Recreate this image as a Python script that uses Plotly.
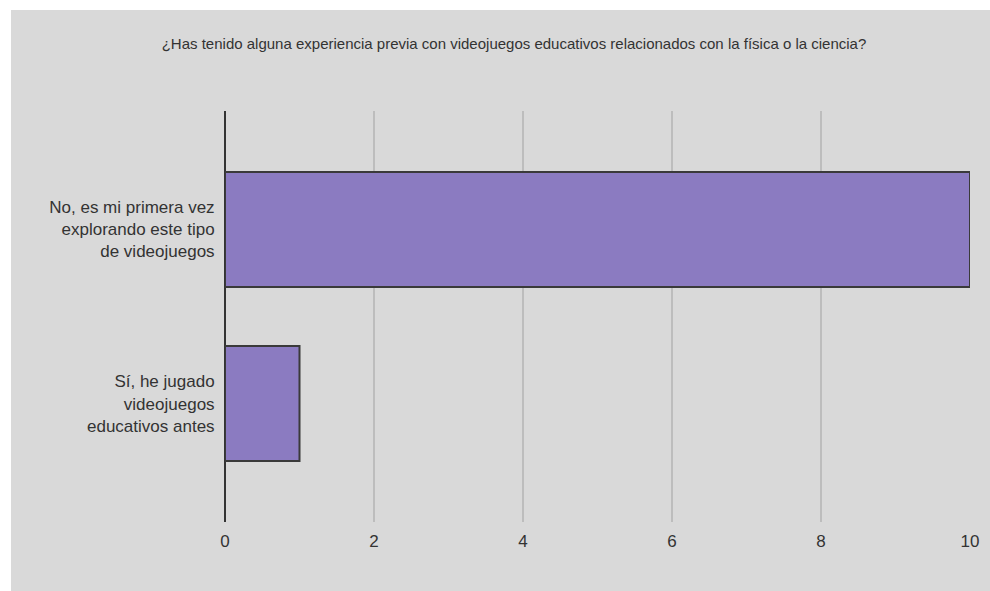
import plotly.graph_objects as go

categories = [
    "No, es mi primera vez<br>explorando este tipo<br>de videojuegos",
    "Sí, he jugado<br>videojuegos<br>educativos antes",
]
counts = [10, 1]
x_ticks = [0, 2, 4, 6, 8, 10]
title_text = "¿Has tenido alguna experiencia previa con videojuegos educativos relacionados con la física o la ciencia?"

FONT = "Liberation Sans, Arial, sans-serif"
BG = "#d9d9d9"

fig = go.Figure(
    go.Bar(
        x=counts,
        y=categories,
        orientation="h",
        width=0.66,
        marker=dict(color="#8b7bc1", line=dict(color="#3a3a3a", width=2)),
        hoverinfo="x+y",
    )
)

fig.update_layout(
    width=990,
    height=591,
    margin=dict(l=225, r=20, t=111, b=69),
    paper_bgcolor="white",
    plot_bgcolor=BG,
    showlegend=False,
    bargap=0.34,
    title=dict(
        text=title_text,
        x=514 / 990,
        xref="container",
        xanchor="center",
        y=1 - 44 / 591,
        yref="container",
        yanchor="middle",
        font=dict(family=FONT, size=15, color="#333333"),
    ),
    font=dict(family=FONT, color="#333333"),
    shapes=[
        dict(
            type="rect",
            xref="paper",
            yref="paper",
            x0=(11 - 225) / 745,
            x1=(995 - 225) / 745,
            y0=(522 - 595) / 411,
            y1=1 + (111 - 10) / 411,
            fillcolor=BG,
            line=dict(width=0),
            layer="below",
        )
    ],
)

fig.update_xaxes(
    range=[0, 10],
    tickvals=x_ticks,
    showgrid=True,
    gridcolor="#bdbdbd",
    gridwidth=1.5,
    zeroline=True,
    zerolinecolor="#333333",
    zerolinewidth=2,
    ticks="outside",
    ticklen=4,
    tickcolor="rgba(0,0,0,0)",
    tickfont=dict(family=FONT, size=17, color="#333333"),
    showline=False,
)

fig.update_yaxes(
    categoryorder="array",
    categoryarray=categories,
    range=[1.68, -0.68],
    showgrid=False,
    zeroline=False,
    ticks="outside",
    ticklen=6,
    tickcolor="rgba(0,0,0,0)",
    tickfont=dict(family=FONT, size=17, color="#333333"),
    showline=False,
)

fig.write_html("out.html")
